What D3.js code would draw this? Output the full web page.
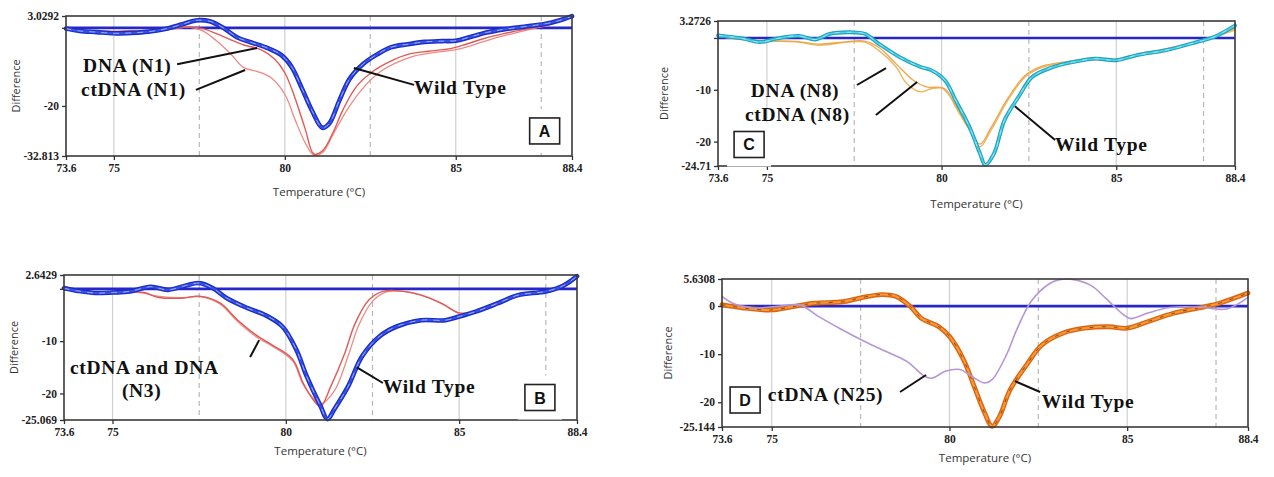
<!DOCTYPE html>
<html><head><meta charset="utf-8">
<script src="https://cdn.jsdelivr.net/npm/d3@7"></script>
<style>
html,body{margin:0;padding:0;background:#fff;}
svg{display:block;}
.serif{font-family:"Liberation Serif","DejaVu Serif","Noto Serif",serif;}
</style></head>
<body>
<svg id="chart" width="1274" height="477"></svg>
<script>
// ---------- shared axis data ----------
const xTickValues = [73.6, 75, 80, 85, 88.4];
const xTickLabels = ["73.6", "75", "80", "85", "88.4"];
const gridSolid = [75, 80, 85];
const gridDashed = [77.5, 82.5, 87.5];

// ---------- Panel A ----------
const aYTicks = [3.0292, 0, -20, -32.813];
const aYLabels = ["3.0292", "", "-20", "-32.813"];
const aWildType = [[73.6,-0.2],[74.0,-0.8],[74.5,-1.1],[75.0,-1.4],[75.5,-1.3],[76.0,-1.0],[76.5,-0.3],[77.0,0.9],[77.4,1.9],[77.8,1.7],[78.2,0.0],[78.6,-2.4],[79.0,-3.7],[79.5,-5.2],[79.9,-7.0],[80.2,-10],[80.5,-15.5],[80.8,-21.3],[81.1,-25.6],[81.3,-24.5],[81.6,-18.5],[81.9,-13.0],[82.3,-9.2],[82.7,-6.8],[83.1,-5.0],[83.6,-4.2],[84.1,-3.6],[84.6,-3.4],[85.0,-3.3],[85.4,-2.4],[85.9,-1.2],[86.4,-0.4],[87.0,0.3],[87.6,1.0],[88.0,1.8],[88.4,3.0]];
const aDNA = [[73.6,-0.3],[74.5,-0.9],[75.5,-0.8],[76.5,-0.5],[77.2,0.2],[77.6,-0.2],[78.0,-1.5],[78.4,-3.0],[78.8,-4.4],[79.3,-5.6],[79.7,-8.0],[80.0,-11.5],[80.3,-18.0],[80.6,-26.0],[80.85,-32.3],[81.1,-31.5],[81.4,-27.0],[81.7,-21.0],[82.1,-15.0],[82.6,-11.0],[83.1,-8.5],[83.6,-6.8],[84.2,-6.0],[84.8,-5.4],[85.3,-4.2],[85.8,-2.8],[86.4,-1.5],[87.0,-0.4],[87.6,0.6],[88.4,2.8]];
const aCtDNA = [[73.6,-0.3],[74.5,-0.9],[75.5,-0.8],[76.5,-0.5],[77.2,0.2],[77.6,-0.8],[78.0,-3.3],[78.4,-6.5],[78.8,-10.2],[79.2,-11.2],[79.6,-12.8],[80.0,-17.0],[80.3,-23.5],[80.6,-29.5],[80.85,-32.6],[81.1,-32.0],[81.4,-27.5],[81.8,-21.3],[82.3,-15.3],[82.8,-11.2],[83.3,-8.8],[83.8,-7.2],[84.4,-6.3],[85.0,-5.6],[85.5,-4.4],[86.0,-3.0],[86.6,-1.6],[87.2,-0.3],[87.8,0.9],[88.4,2.8]];

// ---------- Panel B ----------
const bYTicks = [2.6429, 0, -10, -20, -25.069];
const bYLabels = ["2.6429", "", "-10", "-20", "-25.069"];
const bWildType = [[73.6,0.1],[74.0,-0.4],[74.5,-0.8],[75.0,-0.7],[75.5,-0.5],[76.1,0.4],[76.6,-0.2],[77.1,0.6],[77.5,1.1],[77.9,0.1],[78.3,-1.8],[78.9,-3.7],[79.4,-5.0],[79.9,-7.2],[80.3,-11.6],[80.6,-16.7],[81.0,-22.4],[81.2,-24.9],[81.4,-23.0],[81.8,-18.6],[82.2,-12.9],[82.7,-9.1],[83.2,-7.2],[83.9,-6.0],[84.6,-6.0],[85.0,-5.3],[85.5,-4.3],[86.1,-2.8],[86.7,-1.2],[87.5,-0.5],[88.0,0.6],[88.4,2.4]];
const bCtDNA = [[73.6,0.5],[74.0,-0.2],[74.6,-0.6],[75.3,-0.6],[75.9,-0.7],[76.3,-1.6],[77.0,-1.8],[77.5,-1.4],[78.1,-2.7],[78.6,-5.9],[79.2,-9.1],[79.6,-10.7],[80.2,-13.5],[80.5,-18.0],[80.8,-21.3],[81.0,-22.5],[81.3,-18.6],[81.7,-12.3],[82.0,-6.6],[82.4,-2.1],[82.8,-0.5],[83.3,-0.4],[83.9,-1.2],[84.5,-2.8],[85.0,-4.6],[85.5,-4.3],[86.1,-2.8],[86.7,-1.2],[87.5,-0.5],[88.4,2.3]];
const bDNA = [[73.6,0.3],[74.0,-0.3],[74.6,-0.7],[75.3,-0.5],[75.9,-0.8],[76.3,-1.4],[77.0,-1.7],[77.5,-1.5],[78.1,-2.9],[78.6,-6.2],[79.2,-9.4],[79.6,-10.9],[80.2,-13.8],[80.5,-18.3],[80.8,-21.0],[81.0,-22.0],[81.4,-19.5],[81.8,-12.8],[82.1,-7.0],[82.5,-2.4],[82.9,-0.6],[83.4,-0.5],[84.0,-1.4],[84.6,-3.2],[85.0,-4.7],[85.5,-4.4],[86.1,-2.9],[86.7,-1.3],[87.5,-0.6],[88.4,2.2]];

// ---------- Panel C ----------
const cYTicks = [3.2726, 0, -10, -20, -24.71];
const cYLabels = ["3.2726", "", "-10", "-20", "-24.71"];
const cWildType = [[73.6,0.5],[74.3,-0.1],[74.8,-0.8],[75.3,-0.1],[75.9,0.4],[76.4,-0.3],[76.8,0.8],[77.4,1.1],[77.8,0.8],[78.2,-1.1],[78.8,-3.7],[79.4,-5.6],[79.7,-6.2],[80.1,-8.2],[80.4,-12.0],[80.8,-17.2],[81.1,-22.3],[81.25,-24.5],[81.5,-22.3],[81.8,-15.9],[82.2,-11.4],[82.6,-7.5],[83.2,-5.6],[83.8,-4.6],[84.4,-4.0],[85.0,-4.3],[85.6,-3.3],[86.4,-2.4],[87.3,-0.8],[87.8,0.2],[88.4,2.4]];
const cDNA = [[73.6,0.3],[74.4,-0.4],[75.2,-0.6],[75.9,-0.8],[76.5,-1.4],[77.3,-0.8],[77.8,-0.8],[78.2,-2.4],[78.7,-5.6],[79.0,-8.8],[79.4,-10.4],[79.7,-9.8],[80.1,-9.8],[80.4,-13.3],[80.8,-17.8],[81.1,-21.0],[81.4,-18.0],[81.9,-12.0],[82.4,-7.5],[82.9,-5.6],[83.8,-4.6],[84.4,-4.2],[85.0,-4.3],[85.6,-3.3],[86.4,-2.3],[87.3,-0.9],[88.4,1.5]];
const cCtDNA = [[73.6,0.3],[74.4,-0.4],[75.2,-0.6],[75.9,-0.7],[76.5,-1.2],[77.3,-0.7],[77.8,-0.6],[78.2,-1.8],[78.7,-5.0],[79.2,-8.2],[79.6,-9.5],[80.0,-9.6],[80.3,-11.8],[80.7,-16.5],[81.1,-20.5],[81.4,-17.5],[81.9,-11.6],[82.4,-7.2],[82.9,-5.4],[83.8,-4.4],[84.4,-4.0],[85.0,-4.1],[85.6,-3.1],[86.4,-2.1],[87.3,-0.7],[88.4,1.8]];

// ---------- Panel D ----------
const dYTicks = [5.6308, 0, -10, -20, -25.144];
const dYLabels = ["5.6308", "0", "-10", "-20", "-25.144"];
const dWildType = [[73.6,0.3],[74.2,-0.4],[75.0,-0.8],[75.6,-0.1],[76.2,0.6],[77.0,0.9],[77.5,1.7],[78.1,2.4],[78.5,2.0],[78.9,-0.1],[79.2,-2.5],[79.7,-4.3],[80.0,-6.3],[80.4,-11.2],[80.7,-16.8],[81.0,-22.4],[81.2,-25.0],[81.4,-23.1],[81.7,-17.5],[82.2,-11.9],[82.6,-8.1],[83.2,-5.6],[83.8,-4.6],[84.5,-4.3],[85.0,-4.6],[85.6,-3.2],[86.3,-1.5],[87.2,-0.1],[87.6,0.6],[88.4,2.7]];
const dCtDNA = [[73.6,2.0],[73.9,0.6],[74.5,-0.4],[75.1,-0.1],[75.8,0.2],[76.3,-2.1],[76.9,-4.6],[77.6,-7.3],[78.2,-9.4],[78.8,-11.5],[79.3,-14.6],[79.5,-15.0],[79.9,-13.5],[80.3,-13.2],[80.6,-14.5],[81.0,-16.0],[81.2,-15.3],[81.6,-10.2],[81.9,-4.8],[82.3,1.0],[82.8,4.6],[83.1,5.5],[83.5,5.5],[84.0,4.2],[84.4,1.6],[84.9,-1.8],[85.1,-2.6],[85.6,-1.4],[86.2,-0.3],[87.0,-0.2],[87.8,-0.6],[88.4,1.8]];

// ---------- annotations (data coordinates) ----------
const aNotes = [{t:"DNA (N1)", x:74.1, y:-11.2}, {t:"ctDNA (N1)", x:74.04, y:-17.45}, {t:"Wild Type", x:83.78, y:-16.9}];
const aLeaders = [[76.85,-9.3,79.19,-5.16],[77.4,-15.9,78.84,-10.8],[83.78,-14.6,82.02,-10.3]];
const bNotes = [{t:"ctDNA and DNA", x:73.77, y:-16.28}, {t:"(N3)", x:75.27, y:-20.67}, {t:"Wild Type", x:82.8, y:-19.9}];
const bLeaders = [[78.97,-13.03,79.23,-9.8],[82.8,-18.0,82.05,-15.0]];
const cNotes = [{t:"DNA (N8)", x:74.54, y:-11.4}, {t:"ctDNA (N8)", x:74.37, y:-16.0}, {t:"Wild Type", x:83.25, y:-21.8}];
const cLeaders = [[77.58,-9.08,78.41,-5.8],[78.12,-14.87,79.3,-8.5],[83.25,-19.7,82.1,-13.2]];
const dNotes = [{t:"ctDNA (N25)", x:74.89, y:-19.74}, {t:"Wild Type", x:82.6, y:-21.2}];
const dLeaders = [[78.61,-17.87,79.34,-14.33],[82.55,-17.87,81.84,-15.6]];
const panelLetters = [{t:"A", x:87.6, y:-26.4}, {t:"B", x:87.33, y:-20.77}, {t:"C", x:74.49, y:-20.56}, {t:"D", x:74.25, y:-19.53}];

// ---------- styles ----------
const blueBand = [{c:"#1b2bc4", w:4.6}, {c:"#3652e6", w:2.2}, {c:"#b8c8ff", w:0.8, dash:"5,7"}];
const tealBand = [{c:"#1ea3bd", w:3.8}, {c:"#52cfe6", w:1.6}, {c:"#c0f0fa", w:0.7, dash:"4,8"}];
const orangeBand = [{c:"#de640e", w:4.8}, {c:"#f39a3a", w:2.0}, {c:"#7a3000", w:0.8, dash:"3,9"}];
const redLine = [{c:"#e05a55", w:1.4}];
const redLine2 = [{c:"#ee8a85", w:1.3}];
const orangeThin = [{c:"#f2b460", w:1.4}];
const orangeThin2 = [{c:"#eda648", w:1.3}];
const purpleLine = [{c:"#b596d6", w:1.6}];

const panels = [
  {box:{l:66,r:572,t:16,b:156}, yDom:[-32.813,3.0292], yT:aYTicks, yL:aYLabels,
   series:[[aCtDNA,redLine2],[aDNA,redLine],[aWildType,blueBand]], notes:aNotes, leaders:aLeaders, letter:panelLetters[0], xtY:196, dX:20},
  {box:{l:64,r:577,t:275,b:420}, yDom:[-25.069,2.6429], yT:bYTicks, yL:bYLabels,
   series:[[bDNA,redLine2],[bCtDNA,redLine],[bWildType,blueBand]], notes:bNotes, leaders:bLeaders, letter:panelLetters[1], xtY:455, dX:18},
  {box:{l:718,r:1235,t:21,b:166}, yDom:[-24.71,3.2726], yT:cYTicks, yL:cYLabels,
   series:[[cDNA,orangeThin],[cCtDNA,orangeThin2],[cWildType,tealBand]], notes:cNotes, leaders:cLeaders, letter:panelLetters[2], xtY:208, dX:668},
  {box:{l:722,r:1248,t:279,b:427}, yDom:[-25.144,5.6308], yT:dYTicks, yL:dYLabels,
   series:[[dWildType,orangeBand],[dCtDNA,purpleLine]], notes:dNotes, leaders:dLeaders, letter:panelLetters[3], xtY:462, dX:672}
];

const svg = d3.select("#chart");

panels.forEach(p => {
  const b = p.box;
  const x = d3.scaleLinear().domain([73.6, 88.4]).range([b.l, b.r]);
  const y = d3.scaleLinear().domain(p.yDom).range([b.b, b.t]);
  const g = svg.append("g");

  g.selectAll(".gs").data(gridSolid).join("line")
    .attr("x1", d => x(d)).attr("x2", d => x(d)).attr("y1", b.t).attr("y2", b.b)
    .attr("stroke", "#cfcfcf").attr("stroke-width", 1.2);
  g.selectAll(".gd").data(gridDashed).join("line")
    .attr("x1", d => x(d)).attr("x2", d => x(d)).attr("y1", b.t).attr("y2", b.b)
    .attr("stroke", "#b8b8b8").attr("stroke-width", 1.2).attr("stroke-dasharray", "5,4");

  g.append("line").attr("x1", b.l).attr("x2", b.r).attr("y1", y(0)).attr("y2", y(0))
    .attr("stroke", "#2727c8").attr("stroke-width", 2.6);

  const line = d3.line().x(d => x(d[0])).y(d => y(d[1])).curve(d3.curveCatmullRom.alpha(0.5));
  p.series.forEach(([data, style]) => {
    style.forEach(s => {
      g.append("path").datum(data).attr("d", line).attr("fill", "none")
        .attr("stroke", s.c).attr("stroke-width", s.w)
        .attr("stroke-linejoin", "round").attr("stroke-linecap", "round")
        .attr("stroke-dasharray", s.dash || null);
    });
  });

  g.append("rect").attr("x", b.l).attr("y", b.t).attr("width", b.r - b.l).attr("height", b.b - b.t)
    .attr("fill", "none").attr("stroke", "#3a3a3a").attr("stroke-width", 1.6);

  const yAxis = d3.axisLeft(y).tickValues(p.yT).tickFormat((d, i) => p.yL[i]).tickSize(4).tickSizeOuter(0).tickPadding(3);
  const ya = g.append("g").attr("transform", `translate(${b.l},0)`).call(yAxis);
  const xAxis = d3.axisBottom(x).tickValues(xTickValues).tickFormat((d, i) => xTickLabels[i]).tickSize(4).tickSizeOuter(0).tickPadding(4);
  const xa = g.append("g").attr("transform", `translate(0,${b.b})`).call(xAxis);
  [ya, xa].forEach(a => {
    a.attr("font-family", null).attr("font-size", null);
    a.select(".domain").remove();
    a.selectAll(".tick line").attr("stroke", "#333").attr("stroke-width", 1.3);
    a.selectAll("text").attr("fill", "#222").attr("class", "serif")
      .style("font-weight", "bold").style("font-size", "11.5px");
  });

  g.append("text").attr("x", (b.l + b.r) / 2).attr("y", p.xtY).attr("text-anchor", "middle")
    .style("font-family", "'Open Sans', 'DejaVu Sans', sans-serif").style("font-size", "11.5px").attr("fill", "#333")
    .text("Temperature (°C)");
  g.append("text").attr("transform", `translate(${p.dX},${(b.t + b.b) / 2}) rotate(-90)`).attr("text-anchor", "middle")
    .style("font-family", "'Open Sans', 'DejaVu Sans', sans-serif").style("font-size", "11px").attr("fill", "#333")
    .text("Difference");

  g.selectAll(".ld").data(p.leaders).join("line")
    .attr("x1", d => x(d[0])).attr("y1", d => y(d[1])).attr("x2", d => x(d[2])).attr("y2", d => y(d[3]))
    .attr("stroke", "#111").attr("stroke-width", 2);

  g.selectAll(".nt").data(p.notes).join("text")
    .attr("x", d => x(d.x)).attr("y", d => y(d.y)).attr("class", "serif")
    .style("font-weight", "bold").style("font-size", "19.5px").style("letter-spacing", "0.7px")
    .attr("fill", "#111").text(d => d.t);

  const L = p.letter;
  const cx = x(L.x), cy = y(L.y);
  g.append("rect").attr("x", cx - 22).attr("y", cy - 22).attr("width", 44).attr("height", 44).attr("fill", "#fff");
  g.append("rect").attr("x", cx - 15).attr("y", cy - 13).attr("width", 30).attr("height", 26)
    .attr("fill", "#fff").attr("stroke", "#222").attr("stroke-width", 1.6);
  g.append("text").attr("x", cx).attr("y", cy + 6).attr("text-anchor", "middle")
    .style("font-family", "'Liberation Sans', Arial, sans-serif").style("font-weight", "bold").style("font-size", "16px")
    .attr("fill", "#111").text(L.t);
});
</script>
</body></html>
